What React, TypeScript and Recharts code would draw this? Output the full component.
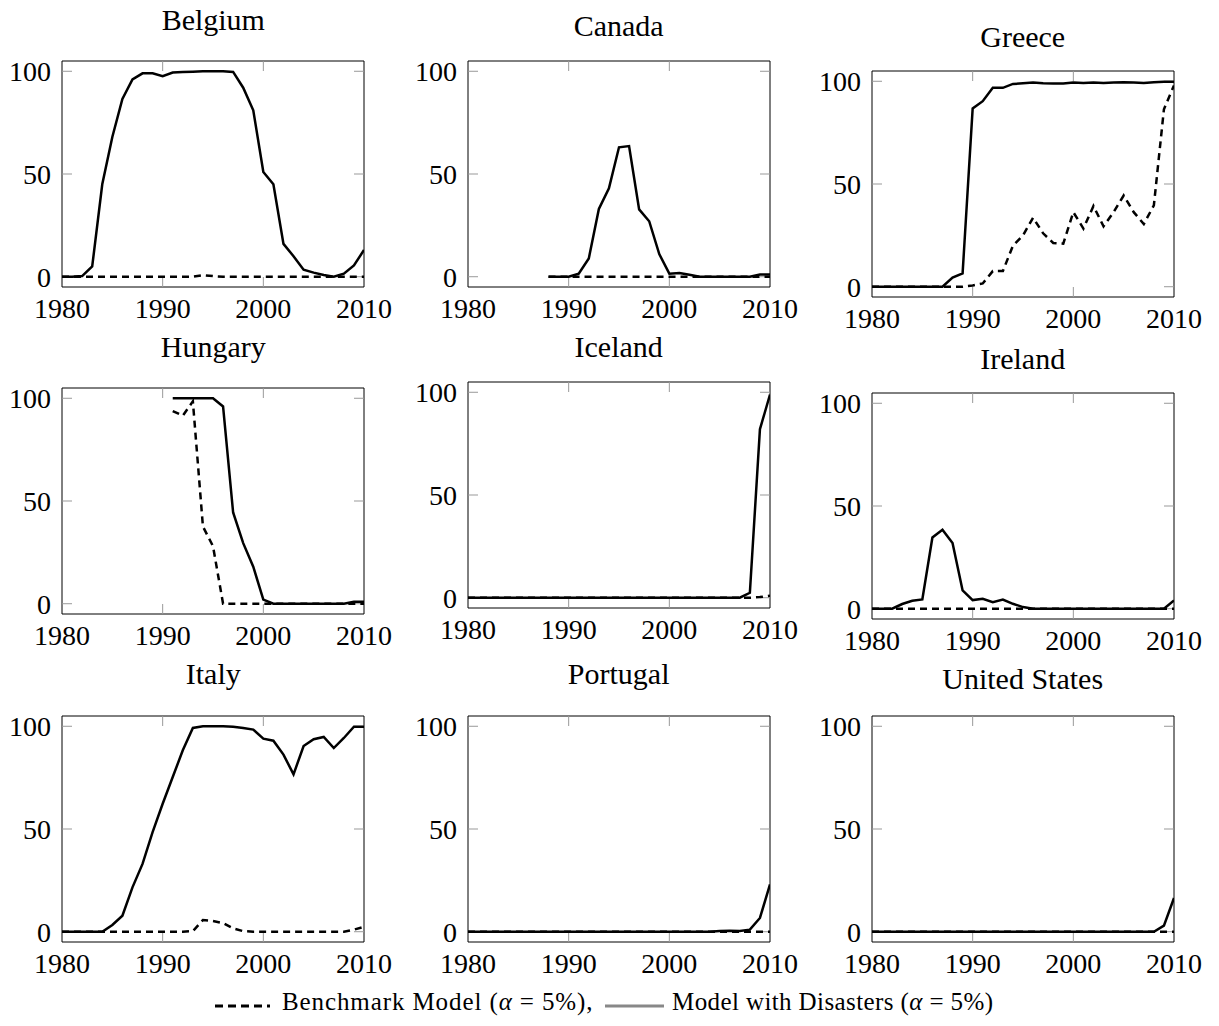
import React from 'react';
import { LineChart, Line, XAxis, YAxis, ReferenceArea, ReferenceLine } from 'recharts';

// years shown on every panel
const years = [
  1980, 1981, 1982, 1983, 1984, 1985, 1986, 1987, 1988, 1989,
  1990, 1991, 1992, 1993, 1994, 1995, 1996, 1997, 1998, 1999,
  2000, 2001, 2002, 2003, 2004, 2005, 2006, 2007, 2008, 2009, 2010,
];
const xTicks = [1980, 1990, 2000, 2010];
const yTicks = [0, 50, 100];
const xInnerTicks = [1990, 2000];

// Model with Disasters (solid) / Benchmark Model (dashed), per country
const belgiumDis = [0, 0, 0.3, 5, 45, 68, 86.5, 96, 99, 99, 97.6, 99.4, 99.7, 99.8, 100, 100, 100, 99.7, 92, 81, 51, 45, 16, 10, 3.4, 2, 0.8, 0, 1.5, 5.5, 13];
const belgiumBench = [0, 0, 0, 0, 0, 0, 0, 0, 0, 0, 0, 0, 0, 0, 0.8, 0.3, 0, 0, 0, 0, 0, 0, 0, 0, 0, 0, 0, 0, 0, 0, 0];

const canadaDis = [null, null, null, null, null, null, null, null, 0, 0, 0, 1.5, 8.9, 33, 43, 63, 63.6, 32.8, 27, 11, 1.5, 1.8, 1, 0, 0, 0, 0, 0, 0, 1.1, 1.1];
const canadaBench = [null, null, null, null, null, null, null, null, 0, 0, 0, 0, 0, 0, 0, 0, 0, 0, 0, 0, 0, 0, 0, 0, 0, 0, 0, 0, 0, 0, 0];

const greeceDis = [0, 0, 0, 0, 0, 0, 0, 0, 4.4, 6.5, 86.8, 90.3, 96.8, 96.8, 98.7, 99, 99.4, 99, 98.9, 98.9, 99.4, 99.2, 99.4, 99.2, 99.4, 99.5, 99.4, 99.2, 99.5, 99.8, 99.8];
const greeceBench = [0, 0, 0, 0, 0, 0, 0, 0, 0, 0, 0.6, 1.6, 7.6, 7.6, 20, 25, 33.6, 26, 21.3, 21, 36.3, 28.3, 39.3, 29.4, 36.3, 44.4, 36.3, 30.5, 39.6, 86.4, 98];

const hungaryDis = [null, null, null, null, null, null, null, null, null, null, null, 100, 100, 100, 100, 100, 96, 44.4, 29.5, 18, 2, 0, 0, 0, 0, 0, 0, 0, 0, 1, 1];
const hungaryBench = [null, null, null, null, null, null, null, null, null, null, null, 93.8, 91.5, 98.5, 37.6, 28, 0, 0, 0, 0, 0, 0, 0, 0, 0, 0, 0, 0, 0, 0, 0];

const icelandDis = [0, 0, 0, 0, 0, 0, 0, 0, 0, 0, 0, 0, 0, 0, 0, 0, 0, 0, 0, 0, 0, 0, 0, 0, 0, 0, 0, 0, 2.4, 82, 98.9];
const icelandBench = [0, 0, 0, 0, 0, 0, 0, 0, 0, 0, 0, 0, 0, 0, 0, 0, 0, 0, 0, 0, 0, 0, 0, 0, 0, 0, 0, 0, 0, 0.3, 1];

const irelandDis = [0, 0, 0, 2.3, 3.9, 4.5, 34.7, 38.4, 32, 8.9, 4.2, 4.8, 3.2, 4.5, 2.4, 0.8, 0, 0, 0, 0, 0, 0, 0, 0, 0, 0, 0, 0, 0, 0, 4];
const irelandBench = [0, 0, 0, 0, 0, 0, 0, 0, 0, 0, 0, 0, 0, 0, 0, 0, 0, 0, 0, 0, 0, 0, 0, 0, 0, 0, 0, 0, 0, 0, 0];

const italyDis = [0, 0, 0, 0, 0, 3.3, 7.8, 21.6, 33, 48.5, 62.3, 75.3, 88.3, 99.2, 100, 100, 100, 99.8, 99.2, 98.4, 94, 93, 86.2, 76.6, 90.4, 93.7, 94.8, 89.4, 94.3, 99.8, 99.8];
const italyBench = [0, 0, 0, 0, 0, 0, 0, 0, 0, 0, 0, 0, 0, 0.3, 5.7, 5.2, 4.2, 1.6, 0.3, 0, 0, 0, 0, 0, 0, 0, 0, 0, 0, 1, 2.4];

const portugalDis = [0, 0, 0, 0, 0, 0, 0, 0, 0, 0, 0, 0, 0, 0, 0, 0, 0, 0, 0, 0, 0, 0, 0, 0, 0, 0.3, 0.5, 0.3, 1, 6.7, 23];
const portugalBench = [0, 0, 0, 0, 0, 0, 0, 0, 0, 0, 0, 0, 0, 0, 0, 0, 0, 0, 0, 0, 0, 0, 0, 0, 0, 0, 0, 0, 0, 0, 0];

const usDis = [0, 0, 0, 0, 0, 0, 0, 0, 0, 0, 0, 0, 0, 0, 0, 0, 0, 0, 0, 0, 0, 0, 0, 0, 0, 0, 0, 0, 0, 3, 16.4];
const usBench = [0, 0, 0, 0, 0, 0, 0, 0, 0, 0, 0, 0, 0, 0, 0, 0, 0, 0, 0, 0, 0, 0, 0, 0, 0, 0, 0, 0, 0, 0, 0];

const FONT = "'Liberation Serif', 'Noto Serif', 'DejaVu Serif', serif";
const TICK_GRAY = '#999';
const TICK_LEN = 10;
const PLOT_W = 302;
const PLOT_H = 226;
const Y_AXIS_W = 60;
const M_TOP = 10;
const M_RIGHT = 40;
const X_AXIS_H = 40;

// plot-area placement of each panel (left/top of the frame) and title baseline
const panels = [
  { name: 'Belgium', dis: belgiumDis, bench: belgiumBench, left: 62.3, top: 61, titleY: 29.5 },
  { name: 'Canada', dis: canadaDis, bench: canadaBench, left: 467.7, top: 61, titleY: 36 },
  { name: 'Greece', dis: greeceDis, bench: greeceBench, left: 871.7, top: 71.3, titleY: 47 },
  { name: 'Hungary', dis: hungaryDis, bench: hungaryBench, left: 62.3, top: 387.7, titleY: 357 },
  { name: 'Iceland', dis: icelandDis, bench: icelandBench, left: 467.7, top: 382.3, titleY: 357 },
  { name: 'Ireland', dis: irelandDis, bench: irelandBench, left: 871.7, top: 393.3, titleY: 368.5 },
  { name: 'Italy', dis: italyDis, bench: italyBench, left: 62.3, top: 715.7, titleY: 683.5 },
  { name: 'Portugal', dis: portugalDis, bench: portugalBench, left: 467.7, top: 715.7, titleY: 683.5 },
  { name: 'United States', dis: usDis, bench: usBench, left: 871.7, top: 715.7, titleY: 688.5 },
];

type Panel = (typeof panels)[number];

function CountryChart({ panel }: { panel: Panel }) {
  const data = years.map((year, i) => ({
    year,
    bench: panel.bench[i],
    dis: panel.dis[i],
  }));
  const tickStyle = { fill: '#000', fontSize: 28, fontFamily: FONT };

  return (
    <div
      style={{
        position: 'absolute',
        left: panel.left - Y_AXIS_W,
        top: panel.top - M_TOP,
      }}
    >
      <LineChart
        width={Y_AXIS_W + PLOT_W + M_RIGHT}
        height={M_TOP + PLOT_H + X_AXIS_H}
        data={data}
        margin={{ top: M_TOP, right: M_RIGHT, left: 0, bottom: 0 }}
        style={{ overflow: 'visible' }}
      >
        <XAxis
          dataKey="year"
          type="number"
          domain={[1980, 2010]}
          ticks={xTicks}
          allowDataOverflow
          height={X_AXIS_H}
          tickSize={0}
          tickMargin={11}
          tickLine={false}
          axisLine={false}
          tick={tickStyle}
          interval={0}
        />
        <YAxis
          type="number"
          domain={[-5, 105]}
          ticks={yTicks}
          allowDataOverflow
          width={Y_AXIS_W}
          tickSize={0}
          tickMargin={11}
          tickLine={false}
          axisLine={false}
          tick={tickStyle}
          interval={0}
        />
        {/* inward tick marks on all four sides: a dash at each end of a reference line */}
        {xInnerTicks.map((t) => (
          <ReferenceLine
            key={`x${t}`}
            x={t}
            stroke={TICK_GRAY}
            strokeWidth={1}
            strokeDasharray={`${TICK_LEN} ${PLOT_H - 2 * TICK_LEN}`}
          />
        ))}
        {yTicks.map((t) => (
          <ReferenceLine
            key={`y${t}`}
            y={t}
            stroke={TICK_GRAY}
            strokeWidth={1}
            strokeDasharray={`${TICK_LEN} ${PLOT_W - 2 * TICK_LEN}`}
          />
        ))}
        <ReferenceArea
          x1={1980}
          x2={2010}
          y1={-5}
          y2={105}
          fill="none"
          fillOpacity={0}
          stroke="#000"
          strokeWidth={1}
        />
        <Line
          type="linear"
          dataKey="bench"
          stroke="#000"
          strokeWidth={2.5}
          strokeDasharray="7 5"
          dot={false}
          activeDot={false}
          isAnimationActive={false}
        />
        <Line
          type="linear"
          dataKey="dis"
          stroke="#000"
          strokeWidth={2.5}
          dot={false}
          activeDot={false}
          isAnimationActive={false}
        />
      </LineChart>
    </div>
  );
}

export default function App() {
  return (
    <div
      style={{
        position: 'absolute',
        left: 0,
        top: 0,
        width: 1219,
        height: 1026,
        background: '#fff',
        overflow: 'hidden',
        fontFamily: FONT,
      }}
    >
      {panels.map((p) => (
        <CountryChart key={p.name} panel={p} />
      ))}
      <svg
        width={1219}
        height={1026}
        style={{ position: 'absolute', left: 0, top: 0, pointerEvents: 'none', fontFamily: FONT }}
      >
        {panels.map((p) => (
          <text
            key={p.name}
            x={p.left + PLOT_W / 2}
            y={p.titleY}
            textAnchor="middle"
            fontSize={30}
            fill="#000"
          >
            {p.name}
          </text>
        ))}
        {/* legend */}
        <line x1={215} y1={1006} x2={270} y2={1006} stroke="#000" strokeWidth={3} strokeDasharray="8 5" />
        <text x={282} y={1010} fontSize={25} letterSpacing={0.9} fill="#000">
          Benchmark Model (<tspan fontStyle="italic">α</tspan> = 5%),
        </text>
        <line x1={605} y1={1006} x2={664} y2={1006} stroke="#888" strokeWidth={3} />
        <text x={672} y={1010} fontSize={25} letterSpacing={0.4} fill="#000">
          Model with Disasters (<tspan fontStyle="italic">α</tspan> = 5%)
        </text>
      </svg>
    </div>
  );
}
